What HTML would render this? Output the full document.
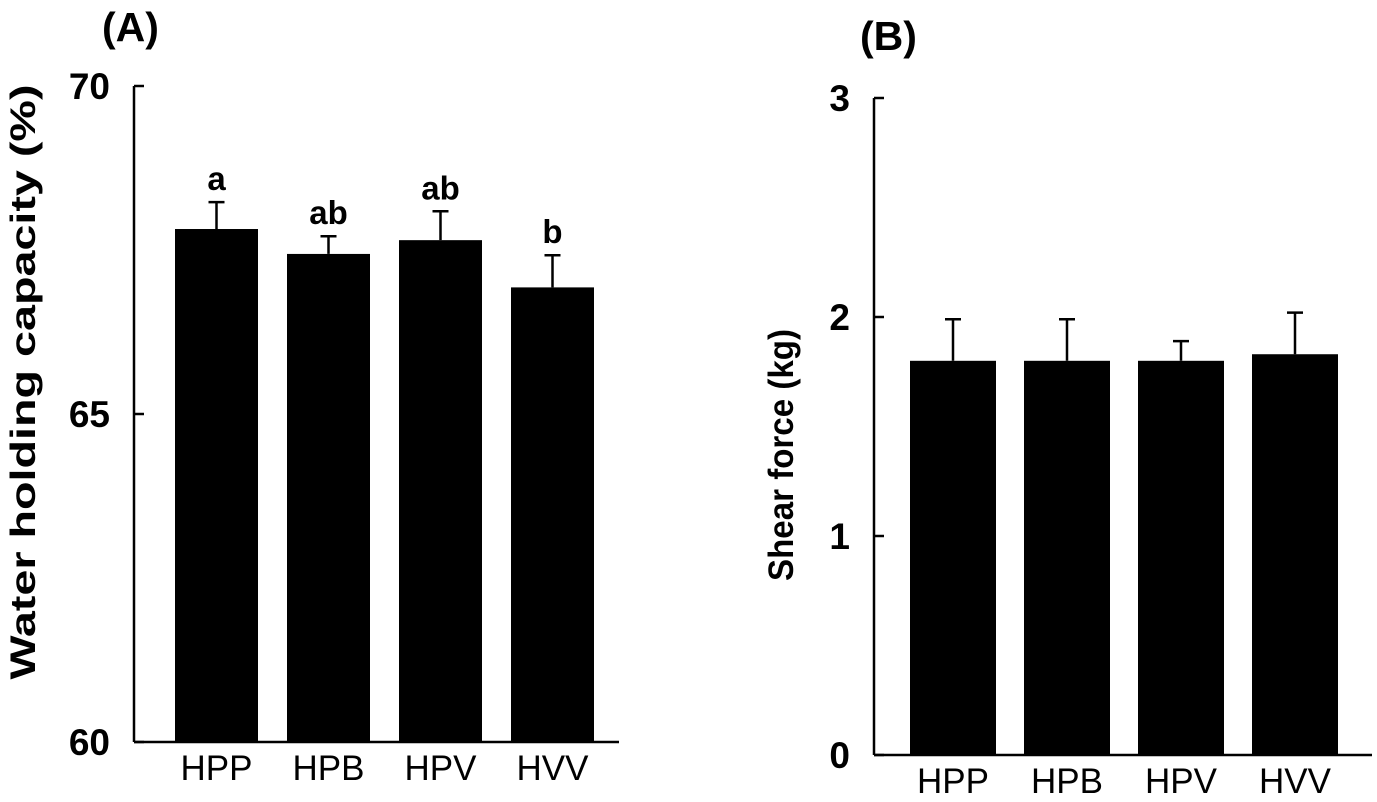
<!DOCTYPE html>
<html><head><meta charset="utf-8"><style>
body{margin:0;background:#fff}
svg text{font-family:"Liberation Sans",Arial,sans-serif;fill:#000}
</style></head><body>
<svg width="1377" height="797" viewBox="0 0 1377 797">
<g id="A"></g>
<g id="B"></g>
</svg>
<script>
const categories=["HPP","HPB","HPV","HVV"];
const whcValues=[67.82,67.44,67.65,66.93];
const whcErrors=[0.41,0.27,0.44,0.49];
const whcLetters=["a","ab","ab","b"];
const whcTicks=[60,65,70];
const sfValues=[1.80,1.80,1.80,1.83];
const sfErrors=[0.19,0.19,0.09,0.19];
const sfTicks=[0,1,2,3];
const NS="http://www.w3.org/2000/svg";
function mk(p,t,a){const e=document.createElementNS(NS,t);for(const k in a)e.setAttribute(k,a[k]);p.appendChild(e);return e;}
function panel(g,o){
  const y=v=>o.y0-(v-o.vmin)/(o.vmax-o.vmin)*(o.y0-o.y1);
  const ax=mk(g,'line',{x1:o.ax,y1:y(o.vmax),x2:o.ax,y2:o.y0,stroke:'#000','stroke-width':2.5});
  
  
  const xa=mk(g,'line',{x1:o.ax,y1:o.y0,x2:o.xend,y2:o.y0,stroke:'#000','stroke-width':2.5});
  
  
  o.ticks.forEach(t=>{
    const l=mk(g,'line',{x1:o.ax,y1:y(t),x2:o.ax+10,y2:y(t),stroke:'#000','stroke-width':2.5});
    
    
    const tx=mk(g,'text',{x:o.ax-24,y:y(t)+13,'text-anchor':'end','font-size':37,'font-weight':'bold'});
    tx.textContent=t;
    
    
  });
  const tt=mk(g,'text',{x:0,y:0,'text-anchor':'middle','font-size':35,'font-weight':'bold',textLength:o.tlen,lengthAdjust:'spacingAndGlyphs',transform:`translate(${o.tx},${o.tcy}) rotate(-90)`});
  tt.textContent=o.title;
  
  
  const pl=mk(g,'text',{x:o.plx,y:o.ply,'font-size':41,'font-weight':'bold'});
  pl.textContent=o.label;
  
  
  categories.forEach((c,i)=>{
    const x=o.bx0+i*o.step, cx=x+o.bw/2;
    const r=mk(g,'rect',{x:x,y:y(o.vals[i]),width:o.bw,height:o.y0-y(o.vals[i]),fill:'#000'});
    
    
    const et=y(o.vals[i]+o.errs[i]);
    const e=mk(g,'path',{d:`M${cx},${y(o.vals[i])}V${et}M${cx-8},${et}H${cx+8}`,stroke:'#000','stroke-width':2.5,fill:'none'});
    
    
    if(o.letters){
      const lt=mk(g,'text',{x:cx,y:et-12,'text-anchor':'middle','font-size':33,'font-weight':'bold'});
      lt.textContent=o.letters[i];
      
      
    }
    const xl=mk(g,'text',{x:cx,y:o.y0+38,'text-anchor':'middle','font-size':35});
    xl.textContent=c;
    
    
  });
}
panel(document.getElementById('A'),{ax:134,y0:742,y1:86,vmin:60,vmax:70,xend:619,ticks:whcTicks,bx0:175,bw:83,step:112,vals:whcValues,errs:whcErrors,letters:whcLetters,title:'Water holding capacity (%)',tx:35,tcy:382,tlen:595,label:'(A)',plx:102,ply:41});
panel(document.getElementById('B'),{ax:874,y0:755,y1:98,vmin:0,vmax:3,xend:1372,ticks:sfTicks,bx0:910,bw:86,step:114,vals:sfValues,errs:sfErrors,letters:null,title:'Shear force (kg)',tx:793,tcy:455,tlen:252,label:'(B)',plx:860,ply:50});
</script>
</body></html>
